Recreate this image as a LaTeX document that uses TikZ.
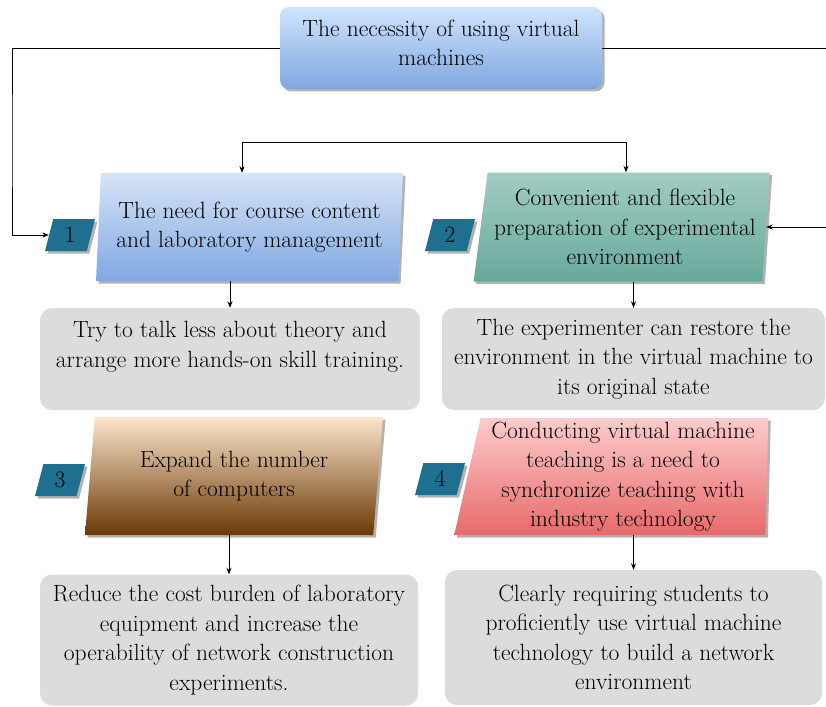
\documentclass[tikz,border=0pt]{standalone}

\definecolor{headtop}{HTML}{CFE4FC}
\definecolor{headbot}{HTML}{7FA7E0}
\definecolor{blutop}{HTML}{D6E4F7}
\definecolor{blubot}{HTML}{80A8E1}
\definecolor{grntop}{HTML}{A2CCC3}
\definecolor{grnbot}{HTML}{67A99B}
\definecolor{brntop}{HTML}{FDE6CC}
\definecolor{brnbot}{HTML}{6A3805}
\definecolor{redtop}{HTML}{FDCCCC}
\definecolor{redbot}{HTML}{E8696A}
\definecolor{badgecol}{HTML}{1F6F90}
\definecolor{notecol}{HTML}{DCDCDC}
\usetikzlibrary{shapes.geometric,shadows,arrows.meta}

\newcommand{\boxfont}{\fontsize{23.5}{29.5}\selectfont}

\tikzset{
  boxshadow/.style={drop shadow={shadow xshift=2.5pt,shadow yshift=-2.5pt,fill=black,opacity=0.3}},
  headbox/.style={rectangle,rounded corners=9pt,top color=headtop,bottom color=headbot,
    inner sep=0pt,align=center,font=\boxfont,boxshadow},
  needbox/.style={trapezium,trapezium stretches body,inner sep=0pt,align=center,
    font=\boxfont,boxshadow},
  badge/.style={trapezium,trapezium stretches body,trapezium left angle=62,
    trapezium right angle=118,minimum width=50pt,minimum height=32pt,inner sep=0pt,
    fill=badgecol,font=\boxfont,boxshadow},
  notebox/.style={rectangle,rounded corners=12pt,fill=notecol,inner sep=0pt,
    align=center,font=\boxfont},
  link/.style={-{Stealth[length=6.5pt,width=5pt]},line width=0.8pt}
}

\begin{document}
\begin{tikzpicture}[x=1pt,y=-1pt]
\useasboundingbox (0,0) rectangle (826,706);

% 見出し
\node[headbox,minimum width=322pt,minimum height=82pt] (head) at (441,48)
  {The necessity of using virtual\\machines\rule[-10pt]{0pt}{0pt}};

% 1
\node[needbox,top color=blutop,bottom color=blubot,minimum width=307pt,minimum height=108pt,
  trapezium left angle=84.5,trapezium right angle=95.5] (need1) at (249.5,227)
  {The need for course content\\and laboratory management};
\node[badge] (b1) at (70,235) {1};

% 2
\node[needbox,top color=grntop,bottom color=grnbot,minimum width=296pt,minimum height=109pt,
  trapezium left angle=79.5,trapezium right angle=95.5] (need2) at (625,227)
  {Convenient and flexible\\preparation of experimental\\environment};
\node[badge] (b2) at (450,235) {2};

% 3
\node[needbox,top color=brntop,bottom color=brnbot,minimum width=298pt,minimum height=118pt,
  trapezium left angle=79,trapezium right angle=101] (need3) at (234,476)
  {Expand the number\\of computers};
\node[badge] (b3) at (60,480) {3};

% 4
\node[needbox,top color=redtop,bottom color=redbot,minimum width=314pt,minimum height=117pt,
  trapezium left angle=76.5,trapezium right angle=91.5] (need4) at (623,476.5)
  {Conducting virtual machine\\teaching is a need to\\synchronize teaching with\\industry technology};
\node[badge] (b4) at (440,479) {4};

% 説明
\node[notebox,minimum width=380pt,minimum height=102pt] (note1) at (230,359)
  {Try to talk less about theory and\\arrange more hands-on skill training.\\~};
\node[notebox,minimum width=383pt,minimum height=102pt] (note2) at (633.5,359)
  {The experimenter can restore the\\environment in the virtual machine to\\its original state};
\node[notebox,minimum width=378pt,minimum height=131pt] (note3) at (229,640)
  {Reduce the cost burden of laboratory\\equipment and increase the\\operability of network construction\\experiments.};
\node[notebox,minimum width=377pt,minimum height=135pt] (note4) at (633.5,637.5)
  {Clearly requiring students to\\proficiently use virtual machine\\technology to build a network\\environment};

% 見出し--1, 2
\coordinate (lc) at (12,140);
\coordinate (rc) at (826.5,140);
\draw[link] (head.west) -| (lc) |- (b1.west);
\draw[link] (head.east) -| (rc) |- (need2.east);

% 1--2
\coordinate (brL) at (242,142);
\coordinate (brR) at (626,142);
\draw[line width=0.8pt] (brL) -- (brR);
\draw[link] (brL) -- (brL |- need1.north);
\draw[link] (brR) -- (brR |- need2.north);

% 矢印
\draw[link] (note1.north |- need1.south) -- (note1.north);
\draw[link] (note2.north |- need2.south) -- (note2.north);
\draw[link] (note3.north |- need3.south) -- (note3.north);
\draw[link] (note4.north |- need4.south) -- (note4.north);
\end{tikzpicture}
\end{document}
